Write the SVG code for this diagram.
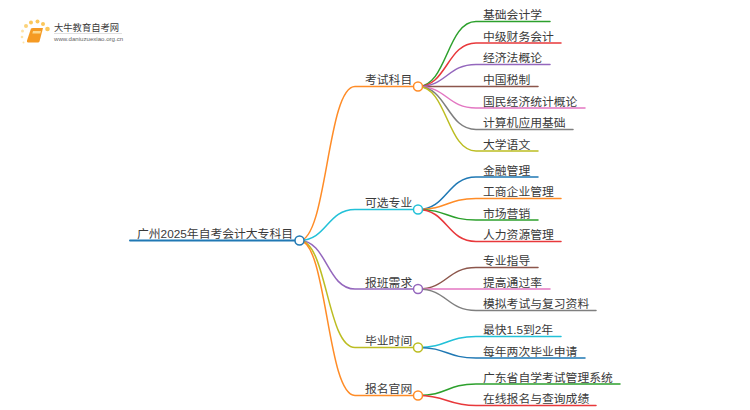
<svg xmlns="http://www.w3.org/2000/svg" width="750" height="410" viewBox="0 0 750 410">
<style>
text{font-family:"Liberation Sans","Noto Sans CJK SC",sans-serif;font-size:11.800px;fill:#3a3a3a}
.c path{fill:none;stroke-width:1.5;stroke-linecap:round}
.c path.m{stroke-width:2}
circle{fill:#fff;stroke-width:1.500}
.o{stroke:#ff8c27}.b{stroke:#1f78b4}.t{stroke:#22c1d8}.p{stroke:#9467bd}.y{stroke:#bcbd22}.g{stroke:#2ca02c}.r{stroke:#e8383b}.br{stroke:#8c564b}.k{stroke:#e377c2}.h{stroke:#7f7f7f}
.d{stroke:none}
</style>
<rect width="750" height="410" fill="#fff"/>
<g id="logo">
<circle class="d" cx="26" cy="26" r="2" style="fill:#fbd27a"/><circle class="d" cx="31" cy="22.500" r="2" style="fill:#fbc75a"/><circle class="d" cx="37.500" cy="21.500" r="2" style="fill:#fbc75a"/><circle class="d" cx="43" cy="24" r="2" style="fill:#fbc75a"/><circle class="d" cx="47.500" cy="29" r="2.300" style="fill:#fbc75a"/><circle class="d" cx="22.500" cy="31" r="1.500" style="fill:#fde3a8"/><circle class="d" cx="22" cy="37" r="1.300" style="fill:#fde3a8"/><circle class="d" cx="23.500" cy="42.500" r="1" style="fill:#fde3a8"/>
<path d="M31 28.500Q31.500 28 33 28H43L39.500 41.500Q39 42.500 38 42.500H28Q26.500 42.500 27 40.500Z" fill="#f59a23"/><path d="M33 31H41L40.300 33.500H32.300Z" fill="#fcd98f"/>
<text x="54" y="31" style="font-size:9.300px">大牛教育自考网</text>
<rect x="54" y="33" width="68" height="0.600" fill="#ccc"/>
<text x="54" y="41" style="font-size:6.100px;fill:#666">www.daniuzuexiao.org.cn</text>
</g>
<g id="connectors" class="c">
<path class="b m" d="M130 240.500H295"/>
<path class="o" d="M299.500 240.500C327 240.500 327 86.500 355 86.500H413"/>
<path class="t" d="M299.500 240.500C327 240.500 327 209.500 355 209.500H413"/>
<path class="p" d="M299.500 240.500C327 240.500 327 289 355 289H413"/>
<path class="y" d="M299.500 240.500C327 240.500 327 347.500 355 347.500H413"/>
<path class="o" d="M299.500 240.500C327 240.500 327 395.500 355 395.500H413"/>
<path class="g" d="M418 86.500C447 86.500 447 21.500 476 21.500H550"/>
<path class="r" d="M418 86.500C447 86.500 447 43 476 43H561"/>
<path class="p" d="M418 86.500C447 86.500 447 64.500 476 64.500H550"/>
<path class="br" d="M418 86.500H538"/>
<path class="k" d="M418 86.500C447 86.500 447 108 476 108H585"/>
<path class="h" d="M418 86.500C447 86.500 447 129.500 476 129.500H573"/>
<path class="y" d="M418 86.500C447 86.500 447 151 476 151H538"/>
<path class="b" d="M418 209.500C447 209.500 447 177 476 177H538"/>
<path class="o" d="M418 209.500C447 209.500 447 198.500 476 198.500H561"/>
<path class="g" d="M418 209.500C447 209.500 447 220 476 220H538"/>
<path class="r" d="M418 209.500C447 209.500 447 241.500 476 241.500H561"/>
<path class="br" d="M418 289C447 289 447 267.500 476 267.500H538"/>
<path class="k" d="M418 289H550"/>
<path class="h" d="M418 289C447 289 447 310.500 476 310.500H596"/>
<path class="t" d="M418 347.500C447 347.500 447 336.500 476 336.500H561"/>
<path class="b" d="M418 347.500C447 347.500 447 358 476 358H585"/>
<path class="g" d="M418 395.500C447 395.500 447 384 476 384H620"/>
<path class="r" d="M418 395.500C447 395.500 447 405.500 476 405.500H596"/>
</g>
<g id="root"><text x="137" y="238">广州2025年自考会计大专科目</text><circle class="b" cx="299.500" cy="240.500" r="4.500"/></g>
<g id="n1"><text x="365" y="84">考试科目</text><circle class="o" cx="418" cy="86.500" r="4.500"/></g>
<g id="n2"><text x="365" y="207">可选专业</text><circle class="t" cx="418" cy="209.500" r="4.500"/></g>
<g id="n3"><text x="365" y="286.500">报班需求</text><circle class="p" cx="418" cy="289" r="4.500"/></g>
<g id="n4"><text x="365" y="345">毕业时间</text><circle class="y" cx="418" cy="347.500" r="4.500"/></g>
<g id="n5"><text x="365" y="393">报名官网</text><circle class="o" cx="418" cy="395.500" r="4.500"/></g>
<g id="l1"><text x="483" y="19">基础会计学</text></g>
<g id="l2"><text x="483" y="40.500">中级财务会计</text></g>
<g id="l3"><text x="483" y="62">经济法概论</text></g>
<g id="l4"><text x="483" y="83.500">中国税制</text></g>
<g id="l5"><text x="483" y="105.500">国民经济统计概论</text></g>
<g id="l6"><text x="483" y="127">计算机应用基础</text></g>
<g id="l7"><text x="483" y="148.500">大学语文</text></g>
<g id="l8"><text x="483" y="174.500">金融管理</text></g>
<g id="l9"><text x="483" y="196">工商企业管理</text></g>
<g id="l10"><text x="483" y="217.500">市场营销</text></g>
<g id="l11"><text x="483" y="239">人力资源管理</text></g>
<g id="l12"><text x="483" y="265">专业指导</text></g>
<g id="l13"><text x="483" y="286.500">提高通过率</text></g>
<g id="l14"><text x="483" y="308">模拟考试与复习资料</text></g>
<g id="l15"><text x="483" y="334">最快1.5到2年</text></g>
<g id="l16"><text x="483" y="355.500">每年两次毕业申请</text></g>
<g id="l17"><text x="483" y="381.500">广东省自学考试管理系统</text></g>
<g id="l18"><text x="483" y="403">在线报名与查询成绩</text></g>
</svg>
